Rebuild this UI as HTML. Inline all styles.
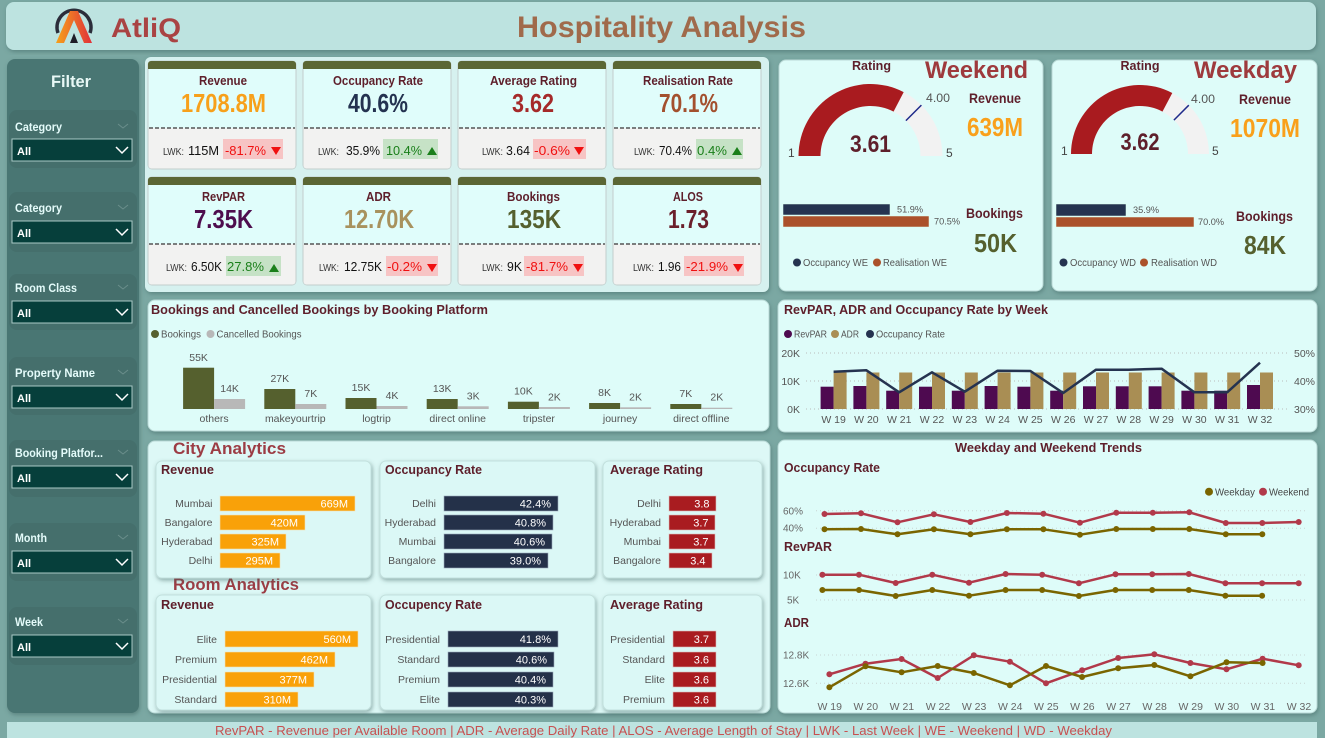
<!DOCTYPE html>
<html><head><meta charset="utf-8"><style>
html,body{margin:0;padding:0;width:1325px;height:738px;overflow:hidden;background:#7ba8a3}
svg{display:block}
text{font-family:"Liberation Sans","DejaVu Sans",sans-serif}
.tt{font-weight:bold;fill:#5e1f2b}
.lb{font-size:10.5px;fill:#555}
.wv{font-size:11px;fill:#fff;text-anchor:end}
.fl{font-size:11.5px;font-weight:bold;fill:#e4fbfa}
.al{font-size:11px;font-weight:bold;fill:#fff}
.lw{font-size:10px;fill:#333}
.lv{font-size:13px;fill:#111}
.bn{font-size:13px;fill:#f01010}
.bp{font-size:13px;fill:#1a7f1a}
</style></head><body>
<svg width="1325" height="738" viewBox="0 0 1325 738" xmlns="http://www.w3.org/2000/svg">
<defs>
<filter id="sh" x="-5%" y="-5%" width="110%" height="115%"><feDropShadow dx="1" dy="2" stdDeviation="2" flood-color="#3d6461" flood-opacity="0.5"/></filter>
<linearGradient id="lg" x1="0" y1="0" x2="1" y2="0"><stop offset="0" stop-color="#f7a21a"/><stop offset="1" stop-color="#e0303a"/></linearGradient>
<g id="card">
<rect x="0" y="0" width="148" height="108" rx="4" fill="#e0fdfb" stroke="#c3cdcc"/>
<rect x="0.5" y="67" width="147" height="40.5" rx="3" fill="#f2f2f1"/>
<rect x="0.5" y="67" width="147" height="6" fill="#f2f2f1"/>
<rect x="0" y="0" width="148" height="8" rx="3" fill="#5b6634"/>
<rect x="0" y="4" width="148" height="4" fill="#5b6634"/>
<line x1="1" x2="147" y1="67" y2="67" stroke="#555" stroke-width="1.4" stroke-dasharray="4 2"/>
</g>
<g id="dd">
<rect x="12" y="0" width="120" height="22" fill="#063f3b" stroke="#a9c9c6" stroke-width="1"/>
<polyline points="116,8 122,14 128,8" fill="none" stroke="#fff" stroke-width="1.5"/>
</g>
</defs>

<!-- header -->
<rect x="6" y="2" width="1310" height="48" rx="8" fill="#bde3e0" filter="url(#sh)"/>
<path d="M58 33 A17 17 0 1 1 90 33" fill="none" stroke="#2b2d3a" stroke-width="3.5"/>
<polygon points="56,43 70,11 78,11 92,43 84,43 74,20 64,43" fill="url(#lg)"/>
<polygon points="70,43 74,33 78,43" fill="#1d1d28"/>
<text x="111" y="37" font-size="27" font-weight="bold" fill="#a94343" textLength="70" lengthAdjust="spacingAndGlyphs">AtliQ</text>
<text x="517" y="37" font-size="30" font-weight="bold" fill="#a06a4b" textLength="289" lengthAdjust="spacingAndGlyphs">Hospitality Analysis</text>

<!-- sidebar -->
<rect x="7" y="59" width="132" height="654" rx="8" fill="#4a7673" filter="url(#sh)"/>
<text x="51" y="87" font-size="17" font-weight="bold" fill="#e8f8f6" textLength="40" lengthAdjust="spacingAndGlyphs">Filter</text>
<g fill="#456f6c">
<rect x="9" y="110" width="128" height="58" rx="8"/>
<rect x="9" y="192" width="128" height="60" rx="8"/>
<rect x="9" y="274" width="128" height="56" rx="8"/>
<rect x="9" y="357" width="128" height="58" rx="8"/>
<rect x="9" y="440" width="128" height="57" rx="8"/>
<rect x="9" y="523" width="128" height="58" rx="8"/>
<rect x="9" y="607" width="128" height="58" rx="8"/>
</g>
<g fill="none" stroke="#6a8e8b" stroke-width="1">
<polyline points="118,124 123,128 128,124"/><polyline points="118,205 123,209 128,205"/><polyline points="118,285 123,289 128,285"/><polyline points="118,370 123,374 128,370"/><polyline points="118,450 123,454 128,450"/><polyline points="118,535 123,539 128,535"/><polyline points="118,619 123,623 128,619"/>
</g>
<text class="fl" x="15" y="131" textLength="47" lengthAdjust="spacingAndGlyphs">Category</text>
<text class="fl" x="15" y="212" textLength="47" lengthAdjust="spacingAndGlyphs">Category</text>
<text class="fl" x="15" y="292" textLength="62" lengthAdjust="spacingAndGlyphs">Room Class</text>
<text class="fl" x="15" y="377" textLength="80" lengthAdjust="spacingAndGlyphs">Property Name</text>
<text class="fl" x="15" y="457" textLength="88" lengthAdjust="spacingAndGlyphs">Booking Platfor...</text>
<text class="fl" x="15" y="542" textLength="32" lengthAdjust="spacingAndGlyphs">Month</text>
<text class="fl" x="15" y="626" textLength="28" lengthAdjust="spacingAndGlyphs">Week</text>
<use href="#dd" y="139"/><use href="#dd" y="221"/><use href="#dd" y="301"/><use href="#dd" y="386"/><use href="#dd" y="466"/><use href="#dd" y="551"/><use href="#dd" y="635"/>
<text class="al" x="17" y="155">All</text><text class="al" x="17" y="237">All</text><text class="al" x="17" y="317">All</text><text class="al" x="17" y="402">All</text><text class="al" x="17" y="482">All</text><text class="al" x="17" y="567">All</text><text class="al" x="17" y="651">All</text>

<!-- KPI container -->
<rect x="145" y="57" width="624" height="235" rx="6" fill="#d6f1ef" filter="url(#sh)"/>
<use href="#card" x="148" y="61"/><use href="#card" x="303" y="61"/><use href="#card" x="458" y="61"/><use href="#card" x="613" y="61"/>
<use href="#card" x="148" y="177"/><use href="#card" x="303" y="177"/><use href="#card" x="458" y="177"/><use href="#card" x="613" y="177"/>

<g font-size="13" font-weight="bold" fill="#5e1f2b" text-anchor="middle">
<text x="223" y="85" textLength="48" lengthAdjust="spacingAndGlyphs">Revenue</text>
<text x="378" y="85" textLength="90" lengthAdjust="spacingAndGlyphs">Occupancy Rate</text>
<text x="533.5" y="85" textLength="87" lengthAdjust="spacingAndGlyphs">Average Rating</text>
<text x="688" y="85" textLength="90" lengthAdjust="spacingAndGlyphs">Realisation Rate</text>
<text x="223.5" y="201" textLength="43" lengthAdjust="spacingAndGlyphs">RevPAR</text>
<text x="378.5" y="201" textLength="25" lengthAdjust="spacingAndGlyphs">ADR</text>
<text x="533.5" y="201" textLength="53" lengthAdjust="spacingAndGlyphs">Bookings</text>
<text x="688" y="201" textLength="30" lengthAdjust="spacingAndGlyphs">ALOS</text>
</g>
<g font-size="26" font-weight="bold" text-anchor="middle">
<text x="223.5" y="112" fill="#f7a01b" textLength="85" lengthAdjust="spacingAndGlyphs">1708.8M</text>
<text x="378" y="112" fill="#243250" textLength="60" lengthAdjust="spacingAndGlyphs">40.6%</text>
<text x="533" y="112" fill="#a52a2a" textLength="42" lengthAdjust="spacingAndGlyphs">3.62</text>
<text x="688.5" y="112" fill="#a3502e" textLength="59" lengthAdjust="spacingAndGlyphs">70.1%</text>
<text x="223.5" y="228" fill="#4e0d4e" textLength="59" lengthAdjust="spacingAndGlyphs">7.35K</text>
<text x="379" y="228" fill="#a8925e" textLength="70" lengthAdjust="spacingAndGlyphs">12.70K</text>
<text x="534" y="228" fill="#55602e" textLength="54" lengthAdjust="spacingAndGlyphs">135K</text>
<text x="688.5" y="228" fill="#6b1f2b" textLength="41" lengthAdjust="spacingAndGlyphs">1.73</text>
</g>
<!-- badges -->
<g>
<rect x="223" y="139" width="60" height="20" fill="#f7c4c4"/>
<rect x="383" y="139" width="55" height="20" fill="#c6e2c6"/>
<rect x="533" y="139" width="53" height="20" fill="#f7c4c4"/>
<rect x="696" y="139" width="47" height="20" fill="#c6e2c6"/>
<rect x="226" y="256" width="55" height="20" fill="#c6e2c6"/>
<rect x="386" y="256" width="52" height="20" fill="#f7c4c4"/>
<rect x="524" y="256" width="60" height="20" fill="#f7c4c4"/>
<rect x="684" y="256" width="60" height="20" fill="#f7c4c4"/>
</g>
<g class="lw">
<text class="lw" x="163" y="155" textLength="21" lengthAdjust="spacingAndGlyphs">LWK:</text>
<text class="lw" x="318" y="155" textLength="21" lengthAdjust="spacingAndGlyphs">LWK:</text>
<text class="lw" x="482" y="155" textLength="21" lengthAdjust="spacingAndGlyphs">LWK:</text>
<text class="lw" x="634" y="155" textLength="21" lengthAdjust="spacingAndGlyphs">LWK:</text>
<text class="lw" x="166" y="271" textLength="21" lengthAdjust="spacingAndGlyphs">LWK:</text>
<text class="lw" x="319" y="271" textLength="20" lengthAdjust="spacingAndGlyphs">LWK:</text>
<text class="lw" x="482" y="271" textLength="21" lengthAdjust="spacingAndGlyphs">LWK:</text>
<text class="lw" x="633" y="271" textLength="21" lengthAdjust="spacingAndGlyphs">LWK:</text>
</g>
<text class="lv" x="188" y="155" textLength="31" lengthAdjust="spacingAndGlyphs">115M</text>
<text class="lv" x="346" y="155" textLength="34" lengthAdjust="spacingAndGlyphs">35.9%</text>
<text class="lv" x="506" y="155" textLength="24" lengthAdjust="spacingAndGlyphs">3.64</text>
<text class="lv" x="659" y="155" textLength="33" lengthAdjust="spacingAndGlyphs">70.4%</text>
<text class="lv" x="191" y="271" textLength="31" lengthAdjust="spacingAndGlyphs">6.50K</text>
<text class="lv" x="344" y="271" textLength="38" lengthAdjust="spacingAndGlyphs">12.75K</text>
<text class="lv" x="507" y="271" textLength="15" lengthAdjust="spacingAndGlyphs">9K</text>
<text class="lv" x="658" y="271" textLength="23" lengthAdjust="spacingAndGlyphs">1.96</text>

<text class="bn" x="225" y="155" textLength="41" lengthAdjust="spacingAndGlyphs">-81.7%</text>
<text class="bp" x="386" y="155" textLength="36" lengthAdjust="spacingAndGlyphs">10.4%</text>
<text class="bn" x="534" y="155" textLength="36" lengthAdjust="spacingAndGlyphs">-0.6%</text>
<text class="bp" x="697" y="155" textLength="30" lengthAdjust="spacingAndGlyphs">0.4%</text>
<text class="bp" x="227" y="271" textLength="37" lengthAdjust="spacingAndGlyphs">27.8%</text>
<text class="bn" x="387" y="271" textLength="35" lengthAdjust="spacingAndGlyphs">-0.2%</text>
<text class="bn" x="526" y="271" textLength="42" lengthAdjust="spacingAndGlyphs">-81.7%</text>
<text class="bn" x="686" y="271" textLength="42" lengthAdjust="spacingAndGlyphs">-21.9%</text>
<g fill="#f01010">
<polygon points="271,147 281,147 276,155"/>
<polygon points="574,147 584,147 579,155"/>
<polygon points="427,264 437,264 432,272"/>
<polygon points="573,264 583,264 578,272"/>
<polygon points="733,264 743,264 738,272"/>
</g>
<g fill="#1a7f1a">
<polygon points="427,155 437,155 432,147"/>
<polygon points="732,155 742,155 737,147"/>
<polygon points="269,272 279,272 274,264"/>
</g>

<!-- Weekend panel -->
<rect x="779" y="60" width="264" height="231" rx="7" fill="#defcf9" stroke="#b9d9d6" filter="url(#sh)"/>
<text class="tt" x="852" y="70" font-size="13" textLength="39" lengthAdjust="spacingAndGlyphs">Rating</text>
<text x="925" y="78" font-size="24" font-weight="bold" fill="#9e3a3d" textLength="103" lengthAdjust="spacingAndGlyphs">Weekend</text>
<path d="M798.5 156 A72 72 0 0 1 942.5 156 L920.5 156 A50 50 0 0 0 820.5 156 Z" fill="#f2f2f2"/>
<path d="M798.5 156 A72 72 0 0 1 903.69 92.11 L893.55 111.63 A50 50 0 0 0 820.5 156 Z" fill="#a91b1f"/>
<line x1="905.9" y1="120.6" x2="921.4" y2="105.1" stroke="#1f2a8a" stroke-width="1.5"/>
<text x="788" y="157" font-size="12" fill="#444">1</text>
<text x="946" y="157" font-size="12" fill="#444">5</text>
<text x="926" y="102" font-size="12" fill="#555" textLength="24" lengthAdjust="spacingAndGlyphs">4.00</text>
<text class="tt" x="870.5" y="152" font-size="24" text-anchor="middle" textLength="41" lengthAdjust="spacingAndGlyphs">3.61</text>
<text class="tt" x="969" y="103" font-size="14" textLength="52" lengthAdjust="spacingAndGlyphs">Revenue</text>
<text x="967" y="136" font-size="26" font-weight="bold" fill="#f9a01b" textLength="56" lengthAdjust="spacingAndGlyphs">639M</text>
<text class="tt" x="966" y="218" font-size="14" textLength="57" lengthAdjust="spacingAndGlyphs">Bookings</text>
<text x="974" y="252" font-size="26" font-weight="bold" fill="#55602e" textLength="43" lengthAdjust="spacingAndGlyphs">50K</text>
<rect x="783" y="204" width="107" height="11" fill="#253350" stroke="#dfe" stroke-width="0.5"/>
<rect x="783" y="216" width="146" height="11" fill="#ab512b" stroke="#dfe" stroke-width="0.5"/>
<text x="897" y="212.5" font-size="9.5" fill="#555" textLength="26" lengthAdjust="spacingAndGlyphs">51.9%</text>
<text x="934" y="224.5" font-size="9.5" fill="#555" textLength="26" lengthAdjust="spacingAndGlyphs">70.5%</text>
<circle cx="797" cy="262.5" r="4" fill="#253350"/>
<text x="803" y="266" font-size="10" fill="#555" textLength="65" lengthAdjust="spacingAndGlyphs">Occupancy WE</text>
<circle cx="877" cy="262.5" r="4" fill="#ab512b"/>
<text x="883" y="266" font-size="10" fill="#555" textLength="64" lengthAdjust="spacingAndGlyphs">Realisation WE</text>

<!-- Weekday panel -->
<rect x="1052" y="60" width="265" height="231" rx="7" fill="#defcf9" stroke="#b9d9d6" filter="url(#sh)"/>
<text class="tt" x="1120.5" y="70" font-size="13" textLength="39" lengthAdjust="spacingAndGlyphs">Rating</text>
<text x="1194" y="78" font-size="24" font-weight="bold" fill="#9e3a3d" textLength="103" lengthAdjust="spacingAndGlyphs">Weekday</text>
<path d="M1071 154 A69 69 0 0 1 1209 154 L1188 154 A48 48 0 0 0 1092 154 Z" fill="#f2f2f2"/>
<path d="M1071 154 A69 69 0 0 1 1172.29 93.02 L1162.46 111.58 A48 48 0 0 0 1092 154 Z" fill="#a91b1f"/>
<line x1="1173.9" y1="120.1" x2="1188.8" y2="105.2" stroke="#1f2a8a" stroke-width="1.5"/>
<text x="1061" y="155" font-size="12" fill="#444">1</text>
<text x="1212" y="155" font-size="12" fill="#444">5</text>
<text x="1191" y="103" font-size="12" fill="#555" textLength="24" lengthAdjust="spacingAndGlyphs">4.00</text>
<text class="tt" x="1140" y="150" font-size="24" text-anchor="middle" textLength="39" lengthAdjust="spacingAndGlyphs">3.62</text>
<text class="tt" x="1239" y="104" font-size="14" textLength="52" lengthAdjust="spacingAndGlyphs">Revenue</text>
<text x="1230" y="137" font-size="26" font-weight="bold" fill="#f9a01b" textLength="70" lengthAdjust="spacingAndGlyphs">1070M</text>
<text class="tt" x="1236" y="221" font-size="14" textLength="57" lengthAdjust="spacingAndGlyphs">Bookings</text>
<text x="1244" y="254" font-size="26" font-weight="bold" fill="#55602e" textLength="42" lengthAdjust="spacingAndGlyphs">84K</text>
<rect x="1056" y="204" width="70" height="12" fill="#253350" stroke="#dfe" stroke-width="0.5"/>
<rect x="1056" y="217" width="138" height="10" fill="#ab512b" stroke="#dfe" stroke-width="0.5"/>
<text x="1133" y="213" font-size="9.5" fill="#555" textLength="26" lengthAdjust="spacingAndGlyphs">35.9%</text>
<text x="1198" y="225" font-size="9.5" fill="#555" textLength="26" lengthAdjust="spacingAndGlyphs">70.0%</text>
<circle cx="1063.5" cy="262.5" r="4" fill="#253350"/>
<text x="1070" y="266" font-size="10" fill="#555" textLength="66" lengthAdjust="spacingAndGlyphs">Occupancy WD</text>
<circle cx="1144" cy="262.5" r="4" fill="#ab512b"/>
<text x="1151" y="266" font-size="10" fill="#555" textLength="66" lengthAdjust="spacingAndGlyphs">Realisation WD</text>

<!-- Bookings by platform -->
<rect x="148" y="300" width="621" height="131" rx="7" fill="#defcf9" stroke="#b9d9d6" filter="url(#sh)"/>
<text class="tt" x="151" y="314" font-size="13" textLength="337" lengthAdjust="spacingAndGlyphs">Bookings and Cancelled Bookings by Booking Platform</text>
<circle cx="155" cy="334" r="4" fill="#55602e"/>
<text x="161" y="337.5" font-size="10" fill="#555" textLength="40" lengthAdjust="spacingAndGlyphs">Bookings</text>
<circle cx="210.5" cy="334" r="4" fill="#b8b8b8"/>
<text x="216.5" y="337.5" font-size="10" fill="#555" textLength="85" lengthAdjust="spacingAndGlyphs">Cancelled Bookings</text>
<g fill="#55602e">
<rect x="183.1" y="367.7" width="31" height="41.3"/>
<rect x="264.3" y="389" width="31" height="20"/>
<rect x="345.5" y="398" width="31" height="11"/>
<rect x="426.7" y="399" width="31" height="10"/>
<rect x="507.9" y="401.7" width="31" height="7.3"/>
<rect x="589.1" y="403" width="31" height="6"/>
<rect x="670.3" y="404" width="31" height="5"/>
</g>
<g fill="#b8b8b8">
<rect x="214.1" y="399" width="31" height="10"/>
<rect x="295.3" y="404" width="31" height="5"/>
<rect x="376.5" y="406" width="31" height="3"/>
<rect x="457.7" y="406.3" width="31" height="2.7"/>
<rect x="538.9" y="407" width="31" height="2"/>
<rect x="620.1" y="407.3" width="31" height="1.7"/>
<rect x="701.3" y="407.7" width="31" height="1.3"/>
</g>
<g font-size="10.5" fill="#555" text-anchor="middle">
<text x="198.6" y="361">55K</text><text x="279.8" y="382">27K</text><text x="361" y="391">15K</text><text x="442.2" y="392">13K</text><text x="523.4" y="394.7">10K</text><text x="604.6" y="396">8K</text><text x="685.8" y="397">7K</text>
<text x="229.6" y="392">14K</text><text x="310.8" y="397">7K</text><text x="392" y="399">4K</text><text x="473.2" y="399.5">3K</text><text x="554.4" y="400.5">2K</text><text x="635.6" y="400.5">2K</text><text x="716.8" y="400.5">2K</text>
<text x="214.1" y="422">others</text><text x="295.3" y="422">makeyourtrip</text><text x="376.5" y="422">logtrip</text><text x="457.7" y="422">direct online</text><text x="538.9" y="422">tripster</text><text x="620.1" y="422">journey</text><text x="701.3" y="422">direct offline</text>
</g>

<!-- RevPAR ADR Occupancy by week -->
<rect x="778" y="300" width="539" height="132" rx="7" fill="#defcf9" stroke="#b9d9d6" filter="url(#sh)"/>
<text class="tt" x="784" y="314" font-size="13" textLength="264" lengthAdjust="spacingAndGlyphs">RevPAR, ADR and Occupancy Rate by Week</text>
<circle cx="788" cy="334" r="4" fill="#4e0a50"/>
<text x="794" y="337.5" font-size="10" fill="#555" textLength="33" lengthAdjust="spacingAndGlyphs">RevPAR</text>
<circle cx="835" cy="334" r="4" fill="#a98e54"/>
<text x="841" y="337.5" font-size="10" fill="#555" textLength="18" lengthAdjust="spacingAndGlyphs">ADR</text>
<circle cx="870" cy="334" r="4" fill="#253350"/>
<text x="876" y="337.5" font-size="10" fill="#555" textLength="69" lengthAdjust="spacingAndGlyphs">Occupancy Rate</text>
<g stroke="#bbb" stroke-width="1" stroke-dasharray="1 3">
<line x1="806" x2="1290" y1="353" y2="353"/><line x1="806" x2="1290" y1="381" y2="381"/><line x1="806" x2="1290" y1="409" y2="409"/>
</g>
<g font-size="10.5" fill="#555">
<text x="800" y="357" text-anchor="end">20K</text><text x="800" y="385" text-anchor="end">10K</text><text x="800" y="413" text-anchor="end">0K</text>
<text x="1294" y="357">50%</text><text x="1294" y="385">40%</text><text x="1294" y="413">30%</text>
</g>
<g fill="#4e0a50">
<rect x="820.6" y="386.7" width="13" height="22.3"/><rect x="853.4" y="386" width="13" height="23"/><rect x="886.2" y="390.7" width="13" height="18.3"/><rect x="919" y="386.7" width="13" height="22.3"/><rect x="951.8" y="390.7" width="13" height="18.3"/><rect x="984.6" y="386" width="13" height="23"/><rect x="1017.4" y="386.7" width="13" height="22.3"/><rect x="1050.2" y="390.7" width="13" height="18.3"/><rect x="1083" y="386.3" width="13" height="22.7"/><rect x="1115.8" y="386.3" width="13" height="22.7"/><rect x="1148.6" y="386.3" width="13" height="22.7"/><rect x="1181.4" y="390.7" width="13" height="18.3"/><rect x="1214.2" y="390.7" width="13" height="18.3"/><rect x="1247" y="385" width="13" height="24"/>
</g>
<g fill="#a98e54">
<rect x="833.6" y="372.5" width="13" height="36.5"/><rect x="866.4" y="372.5" width="13" height="36.5"/><rect x="899.2" y="372.5" width="13" height="36.5"/><rect x="932" y="372.5" width="13" height="36.5"/><rect x="964.8" y="372.5" width="13" height="36.5"/><rect x="997.6" y="372.5" width="13" height="36.5"/><rect x="1030.4" y="372.5" width="13" height="36.5"/><rect x="1063.2" y="372.5" width="13" height="36.5"/><rect x="1096" y="372.5" width="13" height="36.5"/><rect x="1128.8" y="372.5" width="13" height="36.5"/><rect x="1161.6" y="372.5" width="13" height="36.5"/><rect x="1194.4" y="372.5" width="13" height="36.5"/><rect x="1227.2" y="372.5" width="13" height="36.5"/><rect x="1260" y="372.5" width="13" height="36.5"/>
</g>
<polyline points="833.6,371.7 866.4,370.3 899.2,392.3 932,372.3 964.8,391.7 997.6,370.7 1030.4,371 1063.2,393 1096,369.7 1128.8,369.7 1161.6,368.7 1194.4,392.3 1227.2,392.3 1260,362.7" fill="none" stroke="#253350" stroke-width="2.5" stroke-linejoin="round"/>
<g font-size="10.5" fill="#555" text-anchor="middle">
<text x="833.6" y="423">W 19</text><text x="866.4" y="423">W 20</text><text x="899.2" y="423">W 21</text><text x="932" y="423">W 22</text><text x="964.8" y="423">W 23</text><text x="997.6" y="423">W 24</text><text x="1030.4" y="423">W 25</text><text x="1063.2" y="423">W 26</text><text x="1096" y="423">W 27</text><text x="1128.8" y="423">W 28</text><text x="1161.6" y="423">W 29</text><text x="1194.4" y="423">W 30</text><text x="1227.2" y="423">W 31</text><text x="1260" y="423">W 32</text>
</g>

<!-- City / Room analytics -->
<rect x="148" y="441" width="622" height="272" rx="7" fill="#ddf8f6" stroke="#b9d9d6" filter="url(#sh)"/>
<text x="173" y="454" font-size="17" font-weight="bold" fill="#9c3c44" textLength="113" lengthAdjust="spacingAndGlyphs">City Analytics</text>
<text x="173" y="590" font-size="17" font-weight="bold" fill="#9c3c44" textLength="126" lengthAdjust="spacingAndGlyphs">Room Analytics</text>
<g fill="#dbf8f6" stroke="#c2e0dd" filter="url(#sh)">
<rect x="156" y="461" width="215" height="117" rx="6"/><rect x="380" y="461" width="215" height="117" rx="6"/><rect x="603" y="461" width="159" height="117" rx="6"/>
<rect x="156" y="595" width="215" height="115" rx="6"/><rect x="380" y="595" width="215" height="115" rx="6"/><rect x="603" y="595" width="159" height="115" rx="6"/>
</g>
<g font-size="13" font-weight="bold" fill="#5e1f2b">
<text x="161" y="474" textLength="53" lengthAdjust="spacingAndGlyphs">Revenue</text>
<text x="385" y="474" textLength="97" lengthAdjust="spacingAndGlyphs">Occupancy Rate</text>
<text x="610" y="474" textLength="93" lengthAdjust="spacingAndGlyphs">Average Rating</text>
<text x="161" y="609" textLength="53" lengthAdjust="spacingAndGlyphs">Revenue</text>
<text x="385" y="609" textLength="97" lengthAdjust="spacingAndGlyphs">Occupency Rate</text>
<text x="610" y="609" textLength="93" lengthAdjust="spacingAndGlyphs">Average Rating</text>
</g>
<g stroke="#f1e2b8" stroke-width="0.6">
<g fill="#f9a109">
<rect x="220" y="496" width="135" height="15"/><rect x="220" y="515" width="85" height="15"/><rect x="220" y="534" width="66" height="15"/><rect x="220" y="553" width="60" height="15"/>
<rect x="225" y="631" width="133" height="16"/><rect x="225" y="652" width="110" height="15"/><rect x="225" y="672" width="89" height="15"/><rect x="225" y="692" width="73" height="15"/>
</g>
<g fill="#243149" stroke="#9ab">
<rect x="444" y="496" width="114" height="15"/><rect x="444" y="515" width="109" height="15"/><rect x="444" y="534" width="108" height="15"/><rect x="444" y="553" width="104" height="15"/>
<rect x="448" y="631" width="110" height="16"/><rect x="448" y="652" width="106" height="15"/><rect x="448" y="672" width="105" height="15"/><rect x="448" y="692" width="105" height="15"/>
</g>
<g fill="#a91c20" stroke="#dbb">
<rect x="669" y="496" width="47" height="15"/><rect x="669" y="515" width="46" height="15"/><rect x="669" y="534" width="46" height="15"/><rect x="669" y="553" width="43" height="15"/>
<rect x="673" y="631" width="43" height="16"/><rect x="673" y="652" width="43" height="15"/><rect x="673" y="672" width="43" height="15"/><rect x="673" y="692" width="43" height="15"/>
</g>
</g>
<g class="lb" text-anchor="end">
<text class="lb" x="212.5" y="507">Mumbai</text><text class="lb" x="212.5" y="526">Bangalore</text><text class="lb" x="212.5" y="545">Hyderabad</text><text class="lb" x="212.5" y="564">Delhi</text>
<text class="lb" x="436" y="507">Delhi</text><text class="lb" x="436" y="526">Hyderabad</text><text class="lb" x="436" y="545">Mumbai</text><text class="lb" x="436" y="564">Bangalore</text>
<text class="lb" x="661" y="507">Delhi</text><text class="lb" x="661" y="526">Hyderabad</text><text class="lb" x="661" y="545">Mumbai</text><text class="lb" x="661" y="564">Bangalore</text>
<text class="lb" x="217" y="643">Elite</text><text class="lb" x="217" y="663">Premium</text><text class="lb" x="217" y="683">Presidential</text><text class="lb" x="217" y="703">Standard</text>
<text class="lb" x="440" y="643">Presidential</text><text class="lb" x="440" y="663">Standard</text><text class="lb" x="440" y="683">Premium</text><text class="lb" x="440" y="703">Elite</text>
<text class="lb" x="665" y="643">Presidential</text><text class="lb" x="665" y="663">Standard</text><text class="lb" x="665" y="683">Elite</text><text class="lb" x="665" y="703">Premium</text>
</g>
<g>
<text class="wv" x="348" y="507.5">669M</text><text class="wv" x="298" y="526.5">420M</text><text class="wv" x="279" y="545.5">325M</text><text class="wv" x="273" y="564.5">295M</text>
<text class="wv" x="551" y="507.5">42.4%</text><text class="wv" x="546" y="526.5">40.8%</text><text class="wv" x="545" y="545.5">40.6%</text><text class="wv" x="541" y="564.5">39.0%</text>
<text class="wv" x="709.5" y="507.5">3.8</text><text class="wv" x="708.5" y="526.5">3.7</text><text class="wv" x="708.5" y="545.5">3.7</text><text class="wv" x="705.5" y="564.5">3.4</text>
<text class="wv" x="351" y="643">560M</text><text class="wv" x="328" y="663.5">462M</text><text class="wv" x="307" y="683.5">377M</text><text class="wv" x="291" y="703.5">310M</text>
<text class="wv" x="551" y="643">41.8%</text><text class="wv" x="547" y="663.5">40.6%</text><text class="wv" x="546" y="683.5">40.4%</text><text class="wv" x="546" y="703.5">40.3%</text>
<text class="wv" x="709" y="643">3.7</text><text class="wv" x="709" y="663.5">3.6</text><text class="wv" x="709" y="683.5">3.6</text><text class="wv" x="709" y="703.5">3.6</text>
</g>

<!-- Weekday and Weekend Trends -->
<rect x="778" y="440" width="539" height="273" rx="7" fill="#defcf9" stroke="#b9d9d6" filter="url(#sh)"/>
<text class="tt" x="955" y="452" font-size="13" textLength="187" lengthAdjust="spacingAndGlyphs">Weekday and Weekend Trends</text>
<text class="tt" x="784" y="472" font-size="13" textLength="96" lengthAdjust="spacingAndGlyphs">Occupancy Rate</text>
<text class="tt" x="784" y="551" font-size="13" textLength="48" lengthAdjust="spacingAndGlyphs">RevPAR</text>
<text class="tt" x="784" y="627" font-size="13" textLength="25" lengthAdjust="spacingAndGlyphs">ADR</text>
<circle cx="1209" cy="491.7" r="4" fill="#7a6500"/>
<text x="1215" y="495.5" font-size="10.5" fill="#444" textLength="40" lengthAdjust="spacingAndGlyphs">Weekday</text>
<circle cx="1263" cy="491.7" r="4" fill="#b1394a"/>
<text x="1269" y="495.5" font-size="10.5" fill="#444" textLength="40" lengthAdjust="spacingAndGlyphs">Weekend</text>
<g stroke="#c8d4d2" stroke-width="1" stroke-dasharray="1 3">
<line x1="816" x2="1306" y1="510.7" y2="510.7"/><line x1="816" x2="1306" y1="528.3" y2="528.3"/>
<line x1="816" x2="1306" y1="575" y2="575"/><line x1="816" x2="1306" y1="600" y2="600"/>
<line x1="816" x2="1306" y1="655" y2="655"/><line x1="816" x2="1306" y1="683.3" y2="683.3"/>
</g>
<g font-size="10" fill="#666">
<text x="783" y="514.5">60%</text><text x="783" y="531.5">40%</text>
<text x="783" y="578.5">10K</text><text x="787" y="603.5">5K</text>
<text x="783" y="658.5">12.8K</text><text x="783" y="687">12.6K</text>
</g>
<g fill="none" stroke-width="2.5" stroke-linejoin="round">
<polyline stroke="#b1394a" points="824.5,514 861,513.3 897.5,522.3 933.9,514.3 970.4,522 1006.9,513 1043.4,513.7 1079.9,522.7 1116.3,512.7 1152.8,512.7 1189.3,512.3 1225.8,523 1262.3,523 1298.7,522"/>
<polyline stroke="#7a6500" points="824.5,529.3 861,529 897.5,534.3 933.9,529.3 970.4,534.3 1006.9,529.3 1043.4,529.3 1079.9,534.7 1116.3,529 1152.8,529 1189.3,529 1225.8,534.3 1262.3,534.3"/>
<polyline stroke="#b1394a" points="822.4,574.7 859,574.7 895.7,583 932.3,574.7 969,582.7 1005.6,574 1042.2,574.7 1078.9,583.3 1115.5,574.3 1152.2,574.3 1188.8,574 1225.4,583.3 1262.1,583.3 1298.7,583.3"/>
<polyline stroke="#7a6500" points="822.4,590 859,590 895.7,596 932.3,590 969,595.7 1005.6,590 1042.2,590 1078.9,596 1115.5,590 1152.2,590 1188.8,590 1225.4,595.7 1262.1,595.7"/>
<polyline stroke="#b1394a" points="829.4,674.3 865.5,663.7 901.6,659 937.7,678 973.8,655.3 1009.9,661.7 1046,683.3 1082.1,670.3 1118.2,658 1154.3,654.3 1190.4,663 1226.5,669.3 1262.6,658.7 1298.7,665.3"/>
<polyline stroke="#7a6500" points="829.4,687.3 865.5,666.3 901.6,672.3 937.7,666 973.8,673 1009.9,685.3 1046,666 1082.1,677 1118.2,668.3 1154.3,665 1190.4,676.3 1226.5,662.3 1262.6,663"/>
</g>
<g fill="#b1394a">
<circle cx="824.5" cy="514" r="3"/><circle cx="861" cy="513.3" r="3"/><circle cx="897.5" cy="522.3" r="3"/><circle cx="933.9" cy="514.3" r="3"/><circle cx="970.4" cy="522" r="3"/><circle cx="1006.9" cy="513" r="3"/><circle cx="1043.4" cy="513.7" r="3"/><circle cx="1079.9" cy="522.7" r="3"/><circle cx="1116.3" cy="512.7" r="3"/><circle cx="1152.8" cy="512.7" r="3"/><circle cx="1189.3" cy="512.3" r="3"/><circle cx="1225.8" cy="523" r="3"/><circle cx="1262.3" cy="523" r="3"/><circle cx="1298.7" cy="522" r="3"/>
<circle cx="822.4" cy="574.7" r="3"/><circle cx="859" cy="574.7" r="3"/><circle cx="895.7" cy="583" r="3"/><circle cx="932.3" cy="574.7" r="3"/><circle cx="969" cy="582.7" r="3"/><circle cx="1005.6" cy="574" r="3"/><circle cx="1042.2" cy="574.7" r="3"/><circle cx="1078.9" cy="583.3" r="3"/><circle cx="1115.5" cy="574.3" r="3"/><circle cx="1152.2" cy="574.3" r="3"/><circle cx="1188.8" cy="574" r="3"/><circle cx="1225.4" cy="583.3" r="3"/><circle cx="1262.1" cy="583.3" r="3"/><circle cx="1298.7" cy="583.3" r="3"/>
<circle cx="829.4" cy="674.3" r="3"/><circle cx="865.5" cy="663.7" r="3"/><circle cx="901.6" cy="659" r="3"/><circle cx="937.7" cy="678" r="3"/><circle cx="973.8" cy="655.3" r="3"/><circle cx="1009.9" cy="661.7" r="3"/><circle cx="1046" cy="683.3" r="3"/><circle cx="1082.1" cy="670.3" r="3"/><circle cx="1118.2" cy="658" r="3"/><circle cx="1154.3" cy="654.3" r="3"/><circle cx="1190.4" cy="663" r="3"/><circle cx="1226.5" cy="669.3" r="3"/><circle cx="1262.6" cy="658.7" r="3"/><circle cx="1298.7" cy="665.3" r="3"/>
</g>
<g fill="#7a6500">
<circle cx="824.5" cy="529.3" r="3"/><circle cx="861" cy="529" r="3"/><circle cx="897.5" cy="534.3" r="3"/><circle cx="933.9" cy="529.3" r="3"/><circle cx="970.4" cy="534.3" r="3"/><circle cx="1006.9" cy="529.3" r="3"/><circle cx="1043.4" cy="529.3" r="3"/><circle cx="1079.9" cy="534.7" r="3"/><circle cx="1116.3" cy="529" r="3"/><circle cx="1152.8" cy="529" r="3"/><circle cx="1189.3" cy="529" r="3"/><circle cx="1225.8" cy="534.3" r="3"/><circle cx="1262.3" cy="534.3" r="3"/>
<circle cx="822.4" cy="590" r="3"/><circle cx="859" cy="590" r="3"/><circle cx="895.7" cy="596" r="3"/><circle cx="932.3" cy="590" r="3"/><circle cx="969" cy="595.7" r="3"/><circle cx="1005.6" cy="590" r="3"/><circle cx="1042.2" cy="590" r="3"/><circle cx="1078.9" cy="596" r="3"/><circle cx="1115.5" cy="590" r="3"/><circle cx="1152.2" cy="590" r="3"/><circle cx="1188.8" cy="590" r="3"/><circle cx="1225.4" cy="595.7" r="3"/><circle cx="1262.1" cy="595.7" r="3"/>
<circle cx="829.4" cy="687.3" r="3"/><circle cx="865.5" cy="666.3" r="3"/><circle cx="901.6" cy="672.3" r="3"/><circle cx="937.7" cy="666" r="3"/><circle cx="973.8" cy="673" r="3"/><circle cx="1009.9" cy="685.3" r="3"/><circle cx="1046" cy="666" r="3"/><circle cx="1082.1" cy="677" r="3"/><circle cx="1118.2" cy="668.3" r="3"/><circle cx="1154.3" cy="665" r="3"/><circle cx="1190.4" cy="676.3" r="3"/><circle cx="1226.5" cy="662.3" r="3"/><circle cx="1262.6" cy="663" r="3"/>
</g>
<g font-size="10.5" fill="#666" text-anchor="middle">
<text x="829.7" y="710">W 19</text><text x="865.8" y="710">W 20</text><text x="901.9" y="710">W 21</text><text x="938" y="710">W 22</text><text x="974.1" y="710">W 23</text><text x="1010.2" y="710">W 24</text><text x="1046.3" y="710">W 25</text><text x="1082.4" y="710">W 26</text><text x="1118.5" y="710">W 27</text><text x="1154.6" y="710">W 28</text><text x="1190.7" y="710">W 29</text><text x="1226.8" y="710">W 30</text><text x="1262.9" y="710">W 31</text><text x="1299" y="710">W 32</text>
</g>

<!-- footer -->
<rect x="7" y="722" width="1310" height="20" fill="#bde3e0"/>
<text x="215" y="735" font-size="13" fill="#c75050" textLength="897" lengthAdjust="spacingAndGlyphs">RevPAR - Revenue per Available Room | ADR - Average Daily Rate | ALOS - Average Length of Stay | LWK - Last Week | WE - Weekend | WD - Weekday</text>
</svg>
</body></html>
